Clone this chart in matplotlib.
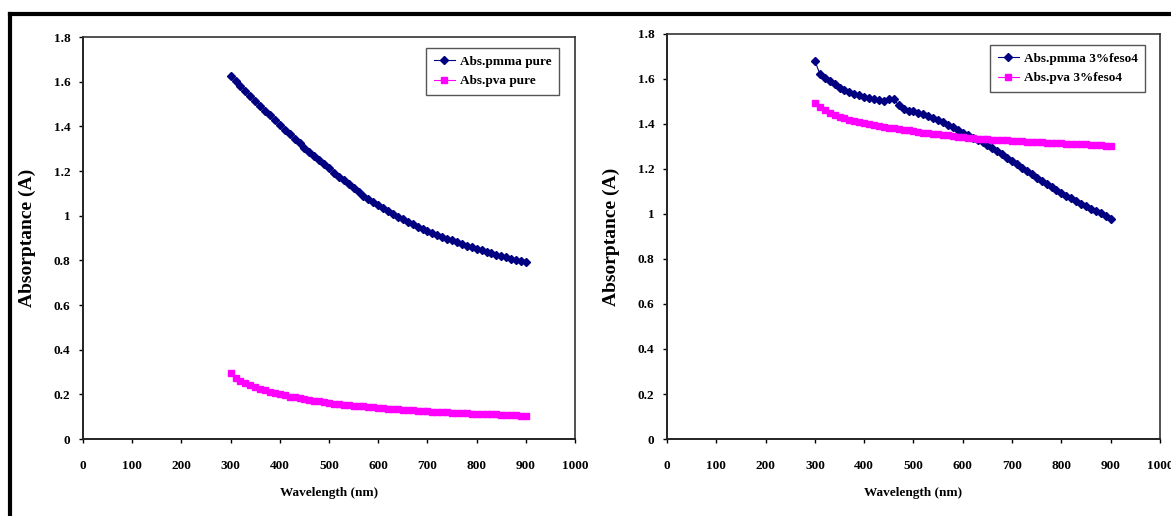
import matplotlib
matplotlib.use("Agg")
import matplotlib.pyplot as plt
from matplotlib.lines import Line2D

plt.rcParams['font.family'] = ['Liberation Serif', 'DejaVu Serif']
plt.rcParams['font.weight'] = 'bold'

# wavelength (nm), 300..900 in 10 nm steps
wavelength = [300, 310, 320, 330, 340, 350, 360, 370, 380, 390,
              400, 410, 420, 430, 440, 450, 460, 470, 480, 490,
              500, 510, 520, 530, 540, 550, 560, 570, 580, 590,
              600, 610, 620, 630, 640, 650, 660, 670, 680, 690,
              700, 710, 720, 730, 740, 750, 760, 770, 780, 790,
              800, 810, 820, 830, 840, 850, 860, 870, 880, 890, 900]

pmma_pure = [1.627, 1.604, 1.582, 1.559, 1.537, 1.515, 1.493, 1.471, 1.449, 1.428,
             1.406, 1.386, 1.365, 1.345, 1.325, 1.305, 1.286, 1.267, 1.248, 1.230,
             1.212, 1.193, 1.175, 1.158, 1.140, 1.123, 1.106, 1.090, 1.075, 1.060,
             1.046, 1.033, 1.020, 1.008, 0.996, 0.984, 0.972, 0.961, 0.951, 0.941,
             0.932, 0.923, 0.914, 0.905, 0.897, 0.889, 0.881, 0.873, 0.866, 0.859,
             0.852, 0.845, 0.838, 0.832, 0.826, 0.820, 0.814, 0.808, 0.802, 0.797, 0.792]

pva_pure = [0.294, 0.272, 0.262, 0.252, 0.243, 0.234, 0.226, 0.219, 0.212, 0.205,
            0.200, 0.195, 0.190, 0.186, 0.182, 0.178, 0.174, 0.171, 0.168, 0.165,
            0.162, 0.159, 0.157, 0.154, 0.152, 0.150, 0.148, 0.146, 0.144, 0.142,
            0.140, 0.138, 0.136, 0.134, 0.133, 0.131, 0.130, 0.128, 0.127, 0.126,
            0.124, 0.123, 0.122, 0.121, 0.120, 0.118, 0.117, 0.116, 0.115, 0.114,
            0.113, 0.112, 0.111, 0.110, 0.110, 0.109, 0.108, 0.107, 0.106, 0.105, 0.103]

pmma_feso4 = [1.681, 1.622, 1.603, 1.590, 1.577, 1.562, 1.549, 1.540, 1.534, 1.529,
              1.522, 1.517, 1.511, 1.505, 1.501, 1.513, 1.509, 1.483, 1.465, 1.459,
              1.456, 1.450, 1.444, 1.436, 1.427, 1.418, 1.408, 1.397, 1.386, 1.374,
              1.360, 1.350, 1.338, 1.327, 1.320, 1.307, 1.293, 1.279, 1.265, 1.250,
              1.235, 1.220, 1.205, 1.190, 1.176, 1.161, 1.147, 1.134, 1.121, 1.108,
              1.095, 1.082, 1.069, 1.057, 1.045, 1.034, 1.024, 1.015, 1.006, 0.993, 0.978]

pva_feso4 = [1.495, 1.477, 1.462, 1.450, 1.441, 1.433, 1.425, 1.419, 1.413, 1.408,
             1.403, 1.400, 1.396, 1.392, 1.388, 1.384, 1.380, 1.377, 1.374, 1.371,
             1.368, 1.365, 1.362, 1.359, 1.356, 1.354, 1.351, 1.349, 1.347, 1.344,
             1.341, 1.338, 1.336, 1.334, 1.332, 1.331, 1.330, 1.329, 1.328, 1.327,
             1.326, 1.325, 1.323, 1.322, 1.321, 1.320, 1.318, 1.317, 1.316, 1.315,
             1.314, 1.313, 1.312, 1.311, 1.310, 1.309, 1.308, 1.307, 1.305, 1.304, 1.302]

x_ticks = [0, 100, 200, 300, 400, 500, 600, 700, 800, 900, 1000]
y_ticks = [0, 0.2, 0.4, 0.6, 0.8, 1.0, 1.2, 1.4, 1.6, 1.8]
y_labels = ['0', '0.2', '0.4', '0.6', '0.8', '1', '1.2', '1.4', '1.6', '1.8']

panels = [
    ([0.0709, 0.1492, 0.4202, 0.779], pmma_pure, pva_pure,
     "Abs.pmma pure", "Abs.pva pure", (0.967, 0.972)),
    ([0.5696, 0.1492, 0.421, 0.785], pmma_feso4, pva_feso4,
     "Abs.pmma 3%feso4", "Abs.pva 3%feso4", (0.970, 0.972)),
]

fig = plt.figure(figsize=(11.71, 5.16), dpi=100)

for rect, s1, s2, lab1, lab2, anchor in panels:
    ax = fig.add_axes(rect)
    ax.plot(wavelength, s1, color='#000080', lw=0.8, marker='D', ms=3.6,
            label=lab1)
    ax.plot(wavelength, s2, color='#FF00FF', lw=0.8, marker='s', ms=4.0,
            label=lab2)
    ax.set_xlim(0, 1000)
    ax.set_ylim(0, 1.8)
    ax.set_xticks(x_ticks)
    ax.set_yticks(y_ticks)
    ax.set_yticklabels(y_labels)
    ax.tick_params(axis='both', direction='out', length=3, width=1,
                   labelsize=9.5)
    ax.tick_params(axis='x', pad=12)
    ax.tick_params(axis='y', pad=6)
    for lbl in ax.get_xticklabels() + ax.get_yticklabels():
        lbl.set_fontweight('bold')
    for side in ['left', 'bottom']:
        ax.spines[side].set_linewidth(1.4)
        ax.spines[side].set_color('#222222')
    for side in ['top', 'right']:
        ax.spines[side].set_linewidth(1.2)
        ax.spines[side].set_color('#333333')
    ax.set_xlabel("Wavelength (nm)", fontsize=9.5, fontweight='bold', labelpad=11)
    ax.set_ylabel("Absorptance (A)", fontsize=14, fontweight='bold', labelpad=13)
    leg = ax.legend(loc='upper right', bbox_to_anchor=anchor, borderaxespad=0,
                    fancybox=False, framealpha=1, edgecolor='#555555',
                    prop={'size': 9.5, 'weight': 'bold'}, handlelength=1.6,
                    borderpad=0.55, labelspacing=0.55, handletextpad=0.4)
    leg.get_frame().set_linewidth(1.0)

# outer black frame (cropped, only top and left edges visible)
fig.add_artist(Line2D([0.0085, 1.0], [0.973, 0.973], color='black', lw=3,
                      transform=fig.transFigure))
fig.add_artist(Line2D([0.0085, 0.0085], [0.0, 0.973], color='black', lw=3,
                      transform=fig.transFigure))

plt.savefig("out.png", dpi=100)
